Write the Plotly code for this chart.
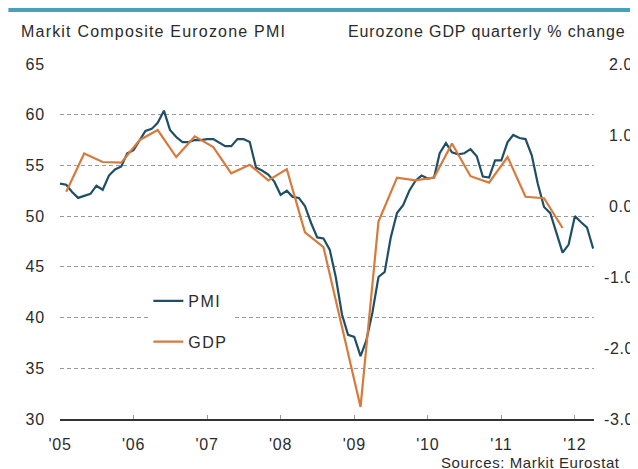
import pandas as pd
import plotly.graph_objects as go

# ---- data ----
pmi_start = "2005-01-01"
pmi_values = [
    53.2, 53.1, 52.4, 51.8, 52.0, 52.2, 53.0, 52.6, 54.0, 54.6, 54.9, 56.2,   # 2005
    56.5, 57.5, 58.4, 58.6, 59.2, 60.4, 58.5, 57.8, 57.3, 57.3, 57.5, 57.5,   # 2006
    57.6, 57.6, 57.3, 56.9, 56.9, 57.6, 57.6, 57.3, 54.8, 54.5, 54.1, 53.4,   # 2007
    52.1, 52.5, 51.9, 51.8, 51.0, 49.3, 47.9, 47.8, 46.7, 44.0, 40.3, 38.3,   # 2008
    38.1, 36.2, 37.7, 40.5, 44.0, 44.5, 47.9, 50.3, 51.1, 52.5, 53.5, 54.0,   # 2009
    53.7, 53.8, 56.2, 57.2, 56.3, 56.1, 56.2, 56.6, 55.9, 53.9, 53.8, 55.5,   # 2010
    55.5, 57.3, 58.0, 57.7, 57.6, 56.0, 53.2, 50.9, 50.3, 48.4, 46.4, 47.2,   # 2011
    50.0, 49.4, 48.9, 46.8,                                                   # 2012
]
gdp_start = "2005-02-01"   # quarters plotted at mid-quarter month
gdp_values = [
    0.20, 0.74, 0.62, 0.61,
    0.93, 1.07, 0.69, 0.98,
    0.83, 0.46, 0.58, 0.36,
    0.52, -0.37, -0.58, -1.70,
    -2.83, -0.22, 0.40, 0.36,
    0.40, 0.88, 0.42, 0.33,
    0.69, 0.13, 0.11, -0.31,
]
year_ticks = ["2005-01-01", "2006-01-01", "2007-01-01", "2008-01-01",
              "2009-01-01", "2010-01-01", "2011-01-01", "2012-01-01"]
year_labels = ["'05", "'06", "'07", "'08", "'09", "'10", "'11", "'12"]
left_ticks = [30, 35, 40, 45, 50, 55, 60, 65]
right_ticks = [-3, -2, -1, 0, 1, 2]
right_labels = ["-3.0", "-2.0", "-1.0", "0.0", "1.0", "2.0"]

pmi_dates = pd.date_range(pmi_start, periods=len(pmi_values), freq="MS")
gdp_dates = pd.date_range(gdp_start, periods=len(gdp_values), freq="3MS")

FONT = "Liberation Sans, Arial, sans-serif"
TXT = "#2b2b2b"
PMI_C = "#1f4f66"
GDP_C = "#d77a3c"


def sp(text, px=1.2):
    return f'<span style="letter-spacing:{px}px">{text}</span>'


def right_lab(t):
    # positive labels get a leading space so the column looks right-aligned
    return sp(t if t.startswith("-") else "\u00a0" + t, 0.6)


fig = go.Figure()
fig.add_trace(go.Scatter(x=pmi_dates, y=pmi_values, mode="lines", name=sp("PMI", 1.5),
                         line=dict(color=PMI_C, width=2.2), legendgroup="a",
                         yaxis="y"))
fig.add_trace(go.Scatter(x=gdp_dates, y=gdp_values, mode="lines", name=sp("GDP", 1.5),
                         line=dict(color=GDP_C, width=2.2), legendgroup="b",
                         yaxis="y2"))

W, H = 638, 469
L, R, T, B = 52, 48, 56, 58
pw, ph = W - L - R, H - T - B


def px_x(p):
    return (p - L) / pw


def px_y(p):
    return (H - B - p) / ph


fig.update_layout(
    width=W, height=H,
    margin=dict(l=L, r=R, t=T, b=B, pad=0),
    paper_bgcolor="white", plot_bgcolor="white",
    font=dict(family=FONT, size=16, color=TXT),
    showlegend=True,
    legend=dict(x=px_x(141), y=px_y(276), xanchor="left", yanchor="top",
                bgcolor="white", borderwidth=0, tracegroupgap=17,
                font=dict(size=16, color=TXT)),
    xaxis=dict(type="date", range=["2005-01-01", "2012-04-05"],
               tickvals=year_ticks, ticktext=[sp(t, 0.8) for t in year_labels],
               showgrid=False, zeroline=False,
               showline=True, linecolor="#333333", linewidth=1.5,
               ticks="inside", ticklen=4, tickcolor="#999999",
               ticklabelstandoff=10,
               tickfont=dict(size=16, color=TXT)),
    yaxis=dict(range=[30, 65], tickvals=left_ticks,
               ticktext=[sp(str(v), 0.8) for v in left_ticks],
               showgrid=True, gridcolor="#9a9a9a", griddash="4px,3px",
               gridwidth=1, zeroline=False, showline=False,
               ticklabelstandoff=14,
               tickfont=dict(size=16, color=TXT)),
    yaxis2=dict(range=[-3, 2], overlaying="y", side="right",
                tickvals=right_ticks, ticktext=[right_lab(t) for t in right_labels],
                showgrid=False, zeroline=False, showline=False,
                ticklabelstandoff=9,
                tickfont=dict(size=16, color=TXT)),
    shapes=[dict(type="rect", xref="paper", yref="paper",
                 x0=px_x(0), x1=px_x(W), y0=px_y(4), y1=px_y(0),
                 fillcolor="#45a2b8", line=dict(width=0), layer="above")],
    annotations=[
        dict(text=sp("Markit Composite Eurozone PMI"), xref="paper", yref="paper",
             x=px_x(11), y=px_y(24), xanchor="left", yanchor="middle",
             showarrow=False, font=dict(size=16, color=TXT)),
        dict(text=sp("Eurozone GDP quarterly % change", 0.9), xref="paper", yref="paper",
             x=px_x(340), y=px_y(24), xanchor="left", yanchor="middle",
             showarrow=False, font=dict(size=16, color=TXT)),
        dict(text=sp("Sources: Markit Eurostat", 0.6), xref="paper", yref="paper",
             x=px_x(434), y=px_y(454), xanchor="left", yanchor="middle",
             showarrow=False, font=dict(size=15, color=TXT)),
    ],
)

fig.write_html("out.html")
